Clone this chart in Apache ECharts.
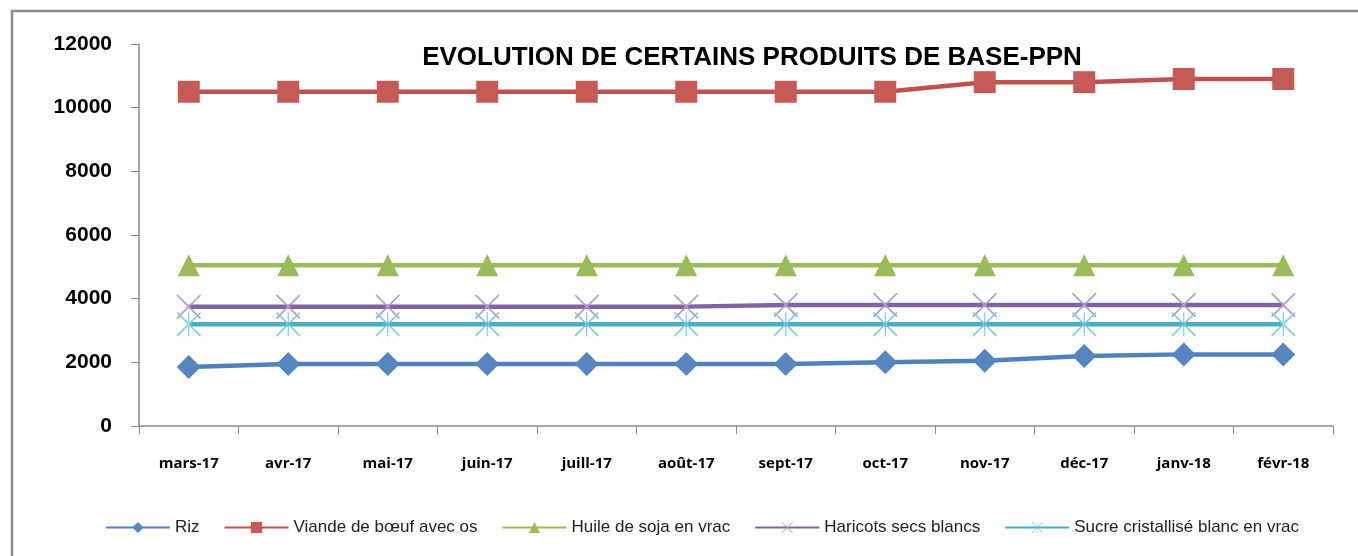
<!DOCTYPE html>
<html>
<head>
<meta charset="utf-8">
<script src="https://cdn.jsdelivr.net/npm/echarts@6/dist/echarts.min.js"></script>
<style>html,body{margin:0;padding:0;background:#fff;}#c{width:1358px;height:556px;}</style>
</head>
<body>
<div id="c"></div>
<script>
const categories = ['mars-17','avr-17','mai-17','juin-17','juill-17','août-17','sept-17','oct-17','nov-17','déc-17','janv-18','févr-18'];
const riz = [1850,1950,1950,1950,1950,1950,1950,2000,2050,2200,2250,2250];
const viande = [10500,10500,10500,10500,10500,10500,10500,10500,10800,10800,10900,10900];
const huile = [5050,5050,5050,5050,5050,5050,5050,5050,5050,5050,5050,5050];
const haricots = [3750,3750,3750,3750,3750,3750,3800,3800,3800,3800,3800,3800];
const sucre = [3200,3200,3200,3200,3200,3200,3200,3200,3200,3200,3200,3200];
const yTicks = {min:0, max:12000, interval:2000};

const xPath = 'path://M0,0 L1.2,0 L12,10.8 L22.8,0 L24,0 L24,1.2 L13.2,12 L24,22.8 L24,24 L22.8,24 L12,13.2 L1.2,24 L0,24 L0,22.8 L10.8,12 L0,1.2 Z';
const starPath = 'path://M0,0 L1.2,0 L12,10.8 L22.8,0 L24,0 L24,1.2 L13.2,12 L24,22.8 L24,24 L22.8,24 L12,13.2 L1.2,24 L0,24 L0,22.8 L10.8,12 L0,1.2 Z M11.4,0 L11.4,24 L12.6,24 L12.6,0 Z';

const chart = echarts.init(document.getElementById('c'));
const font = 'Liberation Sans';
function ser(name, data, color, symbol, size, mcolor){
  return {name, type:'line', data, symbol, symbolSize:size, showSymbol:true,
    lineStyle:{color, width:4.5}, itemStyle:{color: mcolor||color, borderWidth:0},
    emphasis:{disabled:true}, z:2};
}
chart.setOption({
  animation:false,
  backgroundColor:'#fff',
  title:{text:'EVOLUTION DE CERTAINS PRODUITS DE BASE-PPN', left:747, textAlign:'center', top:40,
    textStyle:{fontFamily:font, fontWeight:'bold', fontSize:26, color:'#000'}},
  graphic:[{type:'rect', shape:{x:12, y:11, width:1400, height:600}, style:{fill:'none', stroke:'#8c8c8c', lineWidth:2.5}, silent:true}],
  grid:{left:139, right:25, top:44, bottom:130, containLabel:false},
  legend:{top:514, left:100, itemGap:24, itemWidth:64, itemHeight:14,
    textStyle:{fontFamily:font, fontSize:17, color:'#222'},
    data:['Riz','Viande de bœuf avec os','Huile de soja en vrac','Haricots secs blancs','Sucre cristallisé blanc en vrac']},
  xAxis:{type:'category', data:categories, boundaryGap:true,
    axisLine:{lineStyle:{color:'#8c8c8c', width:1.5}},
    axisTick:{show:true, length:8, lineStyle:{color:'#8c8c8c'}},
    axisLabel:{fontFamily:'Open Sans', fontWeight:'bold', fontSize:15, color:'#000', margin:30}},
  yAxis:{type:'value', min:yTicks.min, max:yTicks.max, interval:yTicks.interval,
    axisLine:{show:true, lineStyle:{color:'#8c8c8c', width:1.5}},
    axisTick:{show:true, length:8, lineStyle:{color:'#8c8c8c'}},
    splitLine:{show:false},
    axisLabel:{fontFamily:font, fontWeight:'bold', fontSize:21, color:'#000', margin:27, formatter:v=>String(v)}},
  series:[
    ser('Riz', riz, '#4f81bd', 'diamond', 24, '#5586c0'),
    ser('Viande de bœuf avec os', viande, '#c0504d', 'rect', 22, '#c55a56'),
    ser('Huile de soja en vrac', huile, '#9bbb59', 'triangle', 22, '#9bbb59'),
    ser('Haricots secs blancs', haricots, '#8064a2', xPath, 24, '#b09ad0'),
    ser('Sucre cristallisé blanc en vrac', sucre, '#4bacc6', starPath, 24, '#7fcbe0')
  ]
});
</script>
</body>
</html>
